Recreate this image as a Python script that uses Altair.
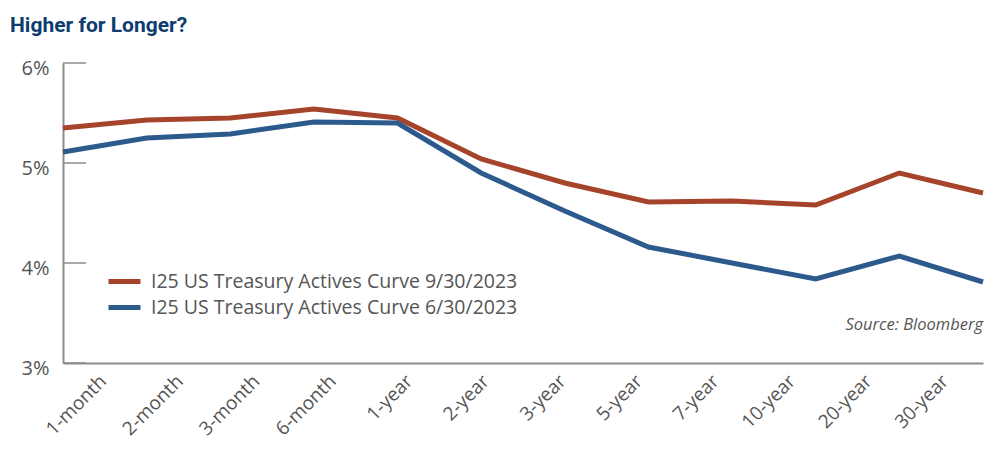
import altair as alt
import pandas as pd

tenors = ["1-month", "2-month", "3-month", "6-month", "1-year", "2-year",
          "3-year", "5-year", "7-year", "10-year", "20-year", "30-year"]
sep_2023 = [5.35, 5.43, 5.45, 5.54, 5.45, 5.04, 4.80, 4.61, 4.62, 4.58, 4.90, 4.70]
jun_2023 = [5.11, 5.25, 5.29, 5.41, 5.40, 4.90, 4.52, 4.16, 4.00, 3.84, 4.07, 3.81]
series_names = ["I25 US Treasury Actives Curve 9/30/2023",
                "I25 US Treasury Actives Curve 6/30/2023"]
series_colors = ["#a6432b", "#2d5a8d"]
y_ticks = [3, 4, 5, 6]

FONT = "Open Sans"
GRAY = "#555555"
AXIS_GRAY = "#8c8c8c"

rows = []
for name, vals in zip(series_names, [sep_2023, jun_2023]):
    for t, v in zip(tenors, vals):
        rows.append({"tenor": t, "value": v, "series": name})
df = pd.DataFrame(rows)
ticks_df = pd.DataFrame({"v": y_ticks})
labels_df = pd.DataFrame({"tenor": tenors})
src_df = pd.DataFrame({"txt": ["Source: Bloomberg"]})

W, H = 920, 300
yscale = alt.Scale(domain=[3, 6], nice=False, zero=False)

lines = alt.Chart(df).mark_line(strokeWidth=5, strokeCap="butt", strokeJoin="miter").encode(
    x=alt.X("tenor:N", sort=tenors,
            scale=alt.Scale(type="point", domain=tenors, padding=0),
            axis=alt.Axis(title=None, labels=False, ticks=False, domain=True,
                          domainColor=AXIS_GRAY, domainWidth=2, grid=False)),
    y=alt.Y("value:Q", scale=yscale,
            axis=alt.Axis(title=None, values=y_ticks, ticks=False, grid=False,
                          domainColor=AXIS_GRAY, domainWidth=2,
                          labelExpr="datum.value + '%'",
                          labelFont=FONT, labelFontSize=20, labelColor=GRAY,
                          labelPadding=14, labelOffset=5)),
    color=alt.Color("series:N",
                    scale=alt.Scale(domain=series_names, range=series_colors),
                    legend=alt.Legend(orient="none", legendX=49, legendY=206,
                                      title=None, padding=0,
                                      symbolType="M-1.6,0H1.6", symbolSize=400,
                                      symbolStrokeWidth=5,
                                      labelFont=FONT, labelFontSize=19.5,
                                      labelColor=GRAY, labelOffset=14,
                                      labelLimit=0, rowPadding=3)),
)

tick_rules = alt.Chart(ticks_df).mark_rule(color=AXIS_GRAY, strokeWidth=1.5).encode(
    y=alt.Y("v:Q", scale=yscale),
    x=alt.value(0), x2=alt.value(23),
)

xlabels = alt.Chart(labels_df).mark_text(
    angle=315, align="right", baseline="top", font=FONT, fontSize=19, color=GRAY
).encode(
    x=alt.X("tenor:N", sort=tenors,
            scale=alt.Scale(type="point", domain=tenors, range=[34, 876], padding=0),
            axis=None),
    y=alt.value(H + 9),
    text="tenor:N",
)

source = alt.Chart(src_df).mark_text(
    align="right", baseline="middle", font=FONT, fontSize=16.5,
    fontStyle="italic", color=GRAY
).encode(
    x=alt.value(W), y=alt.value(262), text="txt:N"
)

chart = alt.layer(tick_rules, lines, xlabels, source).resolve_scale(
    x="independent"
).properties(
    width=W, height=H,
    title=alt.TitleParams("Higher for Longer?", anchor="start", frame="group",
                          dx=-53, offset=22,
                          font="Roboto", fontSize=21, fontWeight="bold",
                          color="#0d3c6e"),
    autosize=alt.AutoSizeParams(type="none"),
    padding={"left": 55, "top": 55, "right": 9, "bottom": 78},
).configure_view(stroke=None)

chart.save("out.html", embed_options={"renderer": "svg", "actions": False})
